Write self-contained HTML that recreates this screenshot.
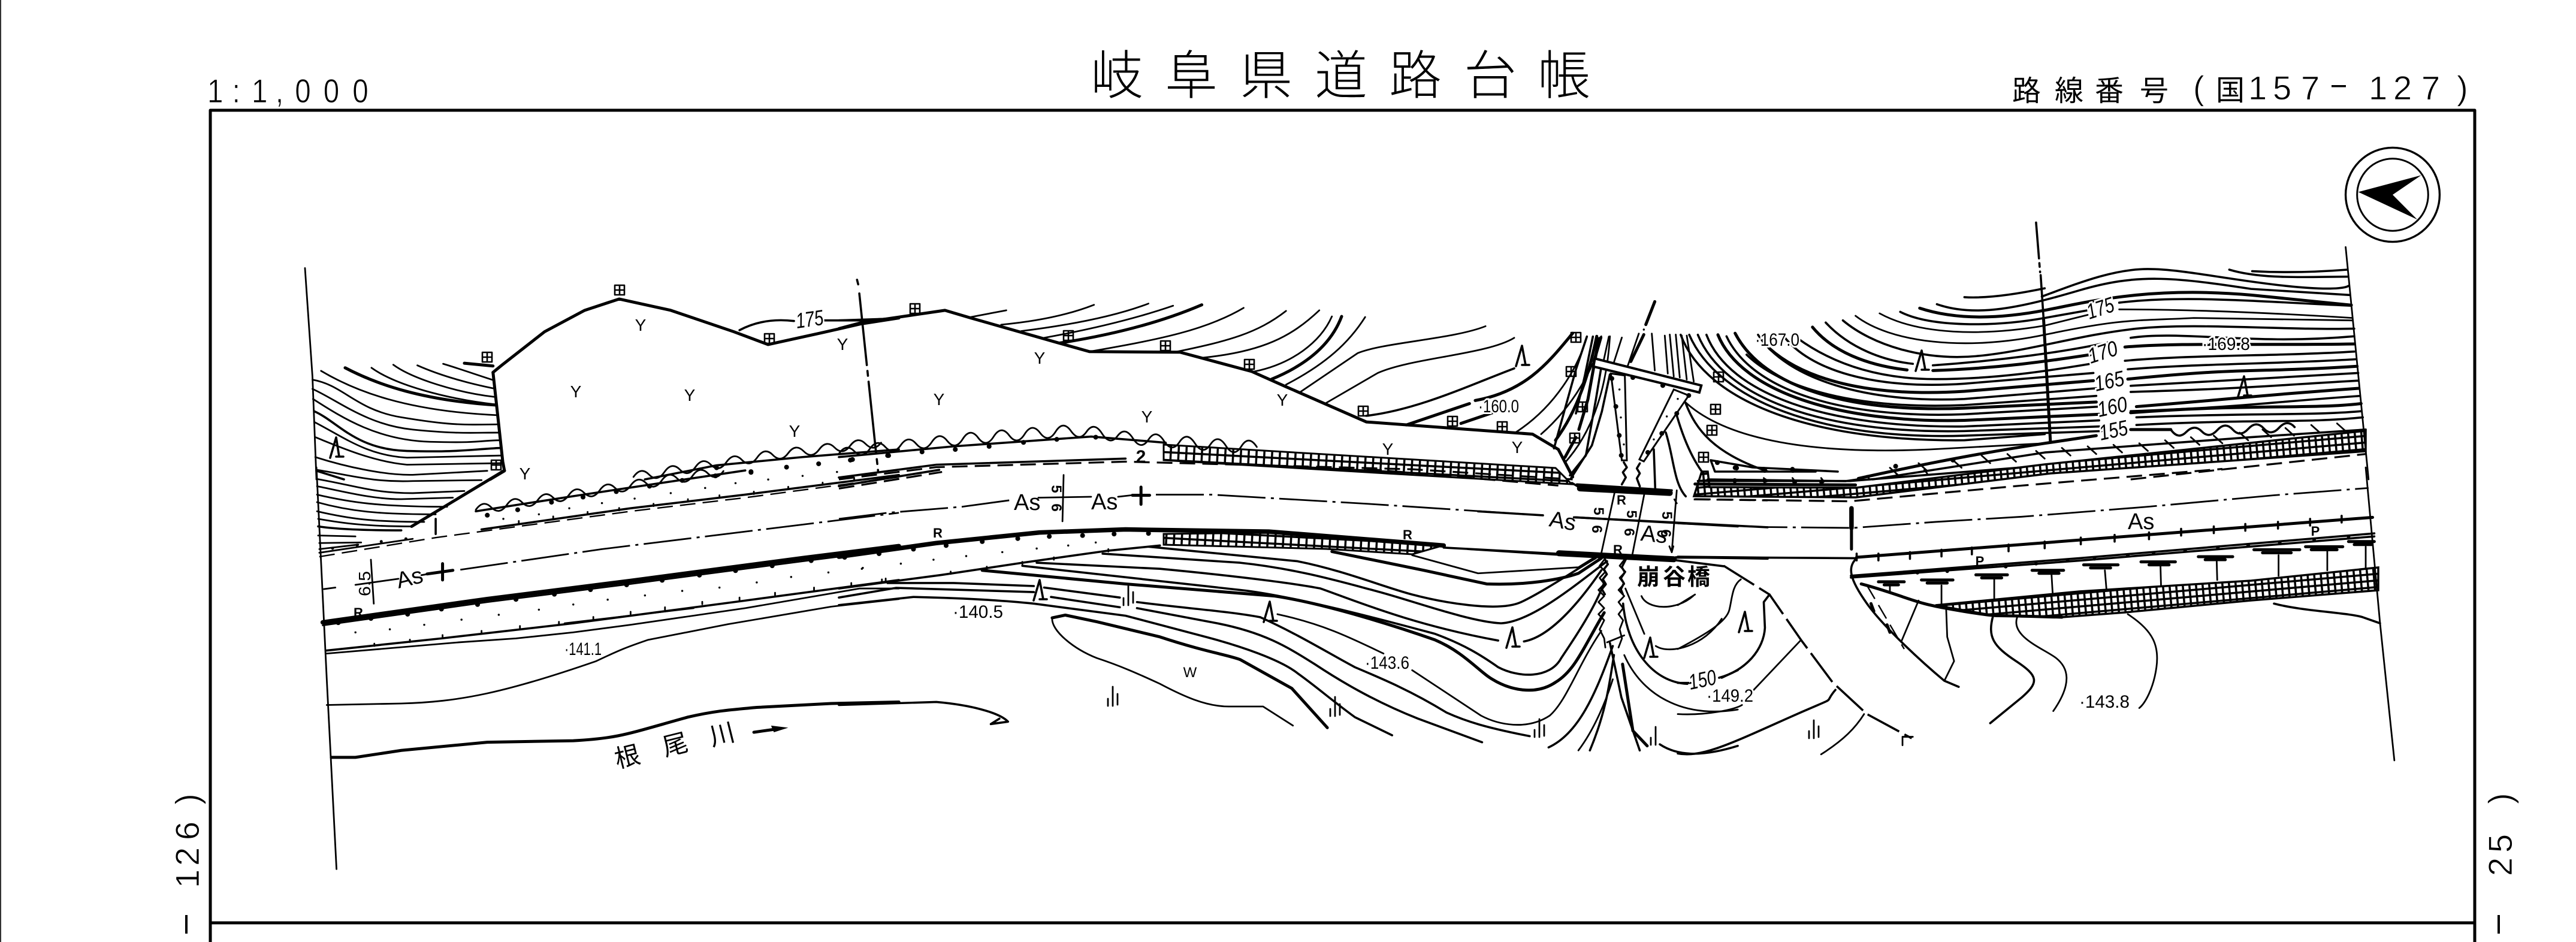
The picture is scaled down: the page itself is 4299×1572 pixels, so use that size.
<!DOCTYPE html>
<html lang="ja"><head><meta charset="utf-8"><title>岐阜県道路台帳</title>
<style>
html,body{margin:0;padding:0;background:#fff}
svg{display:block;position:absolute;left:0;top:0}
path{fill:none;stroke:#000;stroke-width:2.8;vector-effect:non-scaling-stroke;stroke-linejoin:round;stroke-linecap:round}
polygon,ellipse{vector-effect:non-scaling-stroke}
.m{stroke-width:3.6}.b{stroke-width:5}.h{stroke-width:7.5}.x{stroke-width:10}
.dot{stroke-width:8}.sd{stroke-width:3.4}
.dd{stroke-dasharray:26 12;stroke-linecap:butt;stroke-width:3.2}
.dc{stroke-dasharray:80 9 5 9;stroke-linecap:butt;stroke-width:2.8}
text{font-family:"Liberation Sans","Noto Sans CJK JP",sans-serif;fill:#000}
.l{font-size:30px;paint-order:stroke;stroke:#fff;stroke-width:6px}
.i{font-size:36px;font-style:italic;paint-order:stroke;stroke:#fff;stroke-width:6px}
.y{font-size:28px;text-anchor:middle}
.r{font-size:22px;font-weight:bold;text-anchor:middle}
.a{font-size:38px}
.d{font-size:56px;stroke:#fff;stroke-width:.8px}
.t{font-family:"Noto Sans CJK JP",sans-serif}
</style></head><body>
<svg width="4299" height="1572" viewBox="0 0 4299 1572" xmlns="http://www.w3.org/2000/svg">
<defs>
<pattern id="ga" patternUnits="userSpaceOnUse" width="13" height="13" patternTransform="rotate(3)"><rect width="13" height="13" fill="#fff"/><path d="M0 0H13M0 0V13" style="stroke-width:7"/></pattern>
<pattern id="gb" patternUnits="userSpaceOnUse" width="11" height="11" patternTransform="rotate(-5)"><rect width="11" height="11" fill="#fff"/><path d="M0 0H11M0 0V11" style="stroke-width:7"/></pattern>
</defs>
<rect width="4299" height="1572" fill="#fff"/>
<rect x="0" y="0" width="2" height="1572" fill="#333"/>
<!-- frame -->
<path d="M351 1572V184H4130V1572" style="stroke-width:5;stroke-linecap:butt"/>
<path d="M351 1540H4130" style="stroke-width:5;stroke-linecap:butt"/>

<!-- grids -->
<polygon points="1942,742 2596,781 2623,808 2450,798 1942,768" fill="url(#ga)" stroke="#000" stroke-width="3"/>
<polygon points="1942,891 2127,889 2409,910 2357,925 2213,916 1942,909" fill="url(#ga)" stroke="#000" stroke-width="3"/>
<polygon points="3230,1010 3470,987 3757,969 3969,947 3969,985 3757,1002 3546,1022 3441,1030 3326,1027" fill="url(#gb)" stroke="#000" stroke-width="3.5"/>
<polygon points="2827,828 2840,787 2850,787 2853,813 3097,814 3412,775 3948,719 3948,753 3422,790 3097,830" fill="url(#gb)" stroke="#000" stroke-width="3.5"/>

<!-- T1 -->
<g transform="scale(.9567,.5102)">
<path d="M532 877L545 1230 552 1568"/>
<path class="b" d="M860 1218L875 1195 950 1085 1020 1015 1080 978 1170 1015 1280 1085 1340 1127 1430 1090 1500 1060 1568 1040"/>
<path class="b" d="M860 1218L877 1510 880 1540 855 1568"/>
<path class="b" d="M810 1188L860 1197"/>
<path d="M773 1190C800 1205 830 1225 860 1243"/>
<path d="M728 1195C770 1230 820 1255 860 1270"/>
<path d="M686 1193C720 1240 800 1285 862 1298"/>
<path d="M648 1203C690 1260 780 1305 865 1323"/>
<path class="b" d="M602 1203C660 1260 740 1310 866 1325"/>
<path d="M560 1213C620 1280 710 1345 868 1358"/>
<path d="M545 1242C600 1260 620 1340 700 1365S800 1390 870 1388"/>
<path d="M545 1272C590 1310 640 1390 720 1405S820 1415 872 1415"/>
<path d="M546 1305C600 1370 660 1440 750 1445S840 1440 872 1440"/>
<path class="m" d="M548 1345C590 1380 620 1470 710 1475S820 1470 874 1465"/>
<path d="M548 1380C600 1430 640 1490 710 1497L874 1490"/>
<path d="M550 1430C590 1460 650 1510 710 1520L874 1515"/>
<path d="M550 1495C600 1525 670 1555 720 1553L850 1540"/>
<path class="m" d="M552 1540L600 1568"/>
<path class="m" d="M1290 1080C1310 1060 1340 1040 1385 1050M1437 1048L1500 1048 1568 1040"/>
<path class="m" d="M1495 915L1497 930M1499 960L1527 1460 1532 1545" style="stroke-dasharray:120 10 8 10"/>
<path d="M1105 1560q13 -35 27 -8t27 -8t27 -8t27 -8t27 -8t27 -8t27 -8t27 -8t27 -8t27 -6t27 -6t27 -6t27 -6t27 -6t27 -6t27 -4"/>
<path class="m" d="M1125 1568L1250 1522 1400 1495 1568 1470"/>
<path class="dot" d="M1250 1530h.1M1310 1545h.1M1372 1528h.1M1428 1517h.1M1487 1503h.1M1550 1490h.1"/>
</g>

<!-- T2 -->
<g transform="translate(1400,0) scale(.9567,.5102)">
<path class="b" d="M0 1075L40 1055 185 1015 230 1040 380 1120 437 1150 595 1152 720 1215 780 1265 920 1380 1210 1420 1255 1470 1280 1560"/>
<path class="m" d="M0 1048L80 1043"/>
<path d="M230 1037L292 1015"/><path d="M283 1062Q380 1045 445 997"/><path d="M318 1083Q460 1050 540 993"/>
<path d="M358 1105Q490 1060 583 1000"/><path class="b" d="M385 1122Q530 1080 633 997"/>
<path d="M437 1150C560 1110 640 1080 706 1007"/><path d="M590 1150C680 1115 730 1090 780 1017"/>
<path d="M635 1170C740 1150 790 1100 838 1015"/><path d="M725 1215C790 1190 840 1120 860 1035"/>
<path class="b" d="M755 1240C820 1190 860 1120 877 1035"/><path d="M780 1258C850 1190 890 1120 918 1037"/>
<path d="M805 1282L905 1155C950 1120 1070 1110 1128 1067"/>
<path d="M850 1318L940 1220C1000 1170 1130 1160 1178 1105 1190 1100 1205 1090"/>
<path class="m" d="M920 1360C1010 1340 1100 1260 1178 1205"/>
<path class="b" d="M990 1390L1100 1320"/><path class="b" d="M1085 1385L1140 1350"/>
<path class="b" d="M1110 1310C1200 1280 1240 1180 1280 1090"/>
<path d="M1180 1415C1250 1330 1290 1200 1305 1100"/>
<path d="M1225 1420C1280 1330 1320 1200 1330 1100"/>
<path class="b" d="M1250 1440C1290 1340 1310 1210 1322 1100"/>
<path d="M1268 1510C1320 1400 1340 1250 1345 1100"/>
<path d="M0 1484q13 -35 27 -8t27 -8t27 -6t27 -6t27 -4t27 -6t27 -4t27 -6t27 -4t27 -4t27 -4t27 -4t27 -4t27 -4t27 -2t27 2t27 6t27 8t27 8t27 4t27 4t27 4t27 4t27 4t27 4t27 2t27 2"/>
<path class="m" d="M0 1495L200 1460 440 1428 570 1448"/>
<path class="dot" d="M20 1505h.1M85 1490h.1M145 1478h.1M203 1470h.1M262 1460h.1M322 1447h.1M380 1437h.1M448 1430h.1"/>
<path class="m" d="M0 1562L170 1520 500 1500"/>
<path class="dd" d="M0 1568L170 1528 500 1510 1000 1535 1280 1568"/>
</g>

<!-- T3 -->
<g transform="translate(2800,0) scale(.9567,.5102)">
<path d="M1165 808L1205 1568"/>
<ellipse cx="1247" cy="637" rx="82" ry="154" fill="none" stroke="#000" stroke-width="3.4"/>
<ellipse cx="1247" cy="637" rx="62" ry="118" fill="none" stroke="#000" stroke-width="3"/>
<polygon points="1187,628 1297,573 1247,637 1290,718" fill="#000"/>
<path class="m" d="M625 728L632 890" style="stroke-dasharray:60 8 6 8"/>
<path class="m" d="M633 900L638 1040"/><path class="b" d="M638 1040L650 1445"/>
<path class="m" d="M500 972Q550 978 640 943"/>
<path class="m" d="M1002 887Q1080 895 1168 882"/>
<path class="m" d="M962 882C1020 915 1100 905 1168 905"/>
<path class="m" d="M635 970C700 925 760 880 820 880S960 915 1060 935 1170 935 1170 935"/>
<path class="m" d="M452 995C520 1040 600 1005 700 950S860 905 1000 945L1172 965"/>
<path class="b" d="M422 1008C490 1050 570 1040 640 1015S820 935 1000 965L1175 998"/>
<path class="m" d="M388 1020C440 1070 550 1070 640 1040L715 1015M770 990C880 965 1000 985 1175 1000"/>
<path d="M352 1025C420 1095 530 1100 640 1065L715 1030M770 1012C900 1012 1050 1025 1177 1040"/>
<path d="M310 1033C370 1120 500 1150 640 1095S800 1050 900 1040L1177 1048"/>
<path class="m" d="M288 1048C340 1130 430 1180 520 1165S700 1095 800 1075 1050 1080 1180 1075"/>
<path class="m" d="M258 1055C300 1140 360 1180 410 1190M445 1195C560 1180 680 1150 750 1120M790 1105C880 1080 1000 1130 1180 1100"/>
<path class="b" d="M235 1070C270 1150 330 1195 400 1210M445 1212C560 1205 650 1180 720 1160M780 1135C880 1120 1000 1130 1180 1125"/>
<path class="m" d="M208 1105C270 1190 350 1240 450 1240S640 1215 720 1190M780 1180C900 1160 1050 1165 1180 1150"/>
<path class="m" d="M185 1100C230 1210 340 1275 500 1255L725 1220M785 1208C900 1190 1050 1190 1183 1175"/>
<path class="b" d="M160 1140C220 1240 330 1300 500 1280L725 1245M785 1240C1000 1200 1000 1220 1185 1198"/>
<path class="m" d="M140 1095C190 1240 330 1320 500 1305L730 1270M790 1262C1000 1240 1000 1240 1187 1220"/>
<path class="m" d="M120 1160C180 1270 310 1340 500 1325L730 1295M790 1282C1000 1270 1000 1265 1187 1245"/>
<path class="b" d="M100 1090C150 1270 300 1350 500 1335L730 1315M800 1330C1000 1300 1000 1295 1188 1270"/>
<path class="m" d="M85 1100C130 1280 290 1370 500 1355L735 1330M790 1345C1000 1330 1000 1320 1190 1295"/>
<path class="b" d="M70 1095C110 1280 280 1385 500 1375L735 1355M790 1350C1000 1320 1100 1340 1192 1320"/>
<path class="m" d="M50 1095C90 1290 260 1400 500 1395L735 1375M800 1365C1000 1350 1100 1360 1192 1345"/>
<path class="m" d="M35 1095C80 1300 250 1420 500 1410L735 1395M800 1390C1000 1370 1100 1385 1195 1365"/>
<path class="m" d="M20 1095C70 1310 250 1440 500 1425L740 1410"/>
<path class="m" d="M5 1095C50 1320 240 1445 500 1440L640 1420"/>
<path d="M0 1290C60 1420 200 1490 440 1470L640 1450"/>
<path class="b" d="M315 1565C400 1530 500 1490 640 1450L730 1425"/>
<path class="m" d="M340 1568L640 1480 1000 1430 1200 1405"/>
<path class="dot" d="M100 1530h.1M150 1535h.1M200 1535h.1M380 1525h.1M480 1505h.1"/>
<path d="M370 1530l15 25M420 1515l15 25M480 1505l15 25M530 1490l15 25M575 1485l15 25M625 1475l15 25M670 1465l15 25M715 1460l15 25M760 1455l15 25M805 1450l15 25M850 1440l15 25M895 1430l15 25M935 1425l15 25M980 1415l15 25M1020 1405l15 25M1060 1400l15 25M1105 1390l15 25M1150 1385l15 25"/>
<path class="b" d="M790 1405L860 1405"/>
<path class="m" d="M860 1405q13 35 27 8t27 -2t27 -4t27 -2t27 -2t27 -2t27 -2t27 -2"/>
<path class="dd" d="M790 1568L1200 1485"/>
</g>

<!-- T4 -->
<g transform="translate(0,780) scale(.9567,.5051)">
<path d="M552 0L570 700 587 1327"/>
<path class="b" d="M880 10L718 195"/>
<path d="M552 8C610 25 650 50 720 45L840 42"/>
<path d="M552 38C620 60 650 85 720 85L810 78"/>
<path d="M553 62C600 80 650 105 700 105L790 100"/>
<path d="M553 90C610 115 660 130 780 130"/>
<path d="M553 115C610 145 660 155 760 155"/>
<path d="M553 145C610 170 650 180 740 180"/>
<path d="M555 170C600 185 640 195 720 195"/>
<path class="m" d="M555 195C590 205 640 208 700 208"/>
<path d="M555 225L620 228M557 250L630 248"/>
<path class="m" d="M760 170V220"/>
<path d="M557 270L625 255M557 282L720 236"/>
<path class="dot" style="stroke-width:5" d="M580 267h.1M623 257h.1M665 245h.1M708 236h.1"/>
<path class="dd" style="stroke-width:2.4" d="M557 295L760 232 1100 145 1300 100 1568 32"/>
<path class="m" d="M840 205L1100 135 1300 90 1568 25"/>
<path d="M905 185v-8M965 170v-8M1025 155v-8M1080 142v-8M1140 128v-8M1200 113v-8M1255 100v-8M1315 88v-8M1375 72v-8M1435 58v-8M1490 42v-8"/>
<path d="M830 140q13 -35 27 -8t27 -8t27 -8t27 -8t27 -8t27 -8t27 -8t27 -8t27 -8t27 -8t27 -8t27 -8t27 -8t27 -8t27 -8t27 -8"/>
<path class="m" d="M830 145L1000 95 1300 10"/>
<path class="dot" d="M850 158h.1M903 140h.1M962 115h.1M1017 98h.1M1075 80h.1M1133 62h.1M1190 43h.1M1248 28h.1M1310 14h.1"/>
<path class="dc" d="M803 338L1050 270 1568 150"/>
<path d="M565 402L585 397"/>
<path class="b" d="M772 318V372M745 352L790 340"/>
<path d="M647 305L652 450M620 388L695 368M735 356L760 348"/>
<path class="h" d="M563 512L850 435 1100 375 1400 300 1568 260"/>
<path d="M563 522L850 445 1100 385 1400 310 1568 270"/>
<path class="dot" d="M590 513h.1M647 499h.1M711 485h.1M770 468h.1M833 453h.1M900 436h.1M967 419h.1M1030 404h.1M1093 388h.1M1155 373h.1M1220 356h.1M1283 341h.1M1347 325h.1M1415 308h.1M1473 293h.1M1533 278h.1"/>
<path class="m" d="M570 605L770 565 1000 515 1300 440 1568 372"/>
<path d="M653 590v-8M715 577v-8M772 562v-8M840 548v-8M907 532v-8M975 518v-8M1035 502v-8M1100 485v-8M1160 470v-8M1225 452v-8M1290 438v-8M1352 422v-8M1420 405v-8M1485 390v-8M1545 375v-8"/>
<path d="M570 615L800 578 900 565 1000 545 1100 520 1300 465 1500 400 1568 400"/>
<path d="M985 515L1210 465"/>
<path d="M570 785L700 780C800 775 880 745 1040 640C1090 595 1100 590 1130 570L1270 518 1450 460 1568 435"/>
<path class="b" d="M578 958H620L700 935 850 908 1000 903C1080 895 1095 880 1200 825C1250 803 1280 800 1320 793L1450 780 1568 775"/>
<path class="b" d="M1315 875L1360 863"/>
<polygon points="1375,860 1345,853 1350,875" fill="#000"/>
<path class="sd" d="M620 545h.1M680 535h.1M740 520h.1M805 503h.1M870 487h.1M940 470h.1M1000 453h.1M1060 437h.1M1125 423h.1M1190 408h.1M1255 397h.1M1320 380h.1M1380 362h.1M1445 347h.1M1505 332h.1M878 170h.1M940 155h.1M993 135h.1M1050 118h.1M1107 103h.1M1170 85h.1M1230 68h.1M1283 52h.1M1340 40h.1M1400 28h.1M1460 15h.1"/>
</g>

<!-- T5 -->
<g transform="translate(1400,780) scale(.9567,.5051)">
<path class="m" d="M0 62L175 8"/>
<path class="dd" d="M0 70L180 15"/>
<path class="dd" d="M920 5L1255 60"/>
<path class="dc" d="M0 170L85 150 215 130 300 108"/>
<path d="M392 25L390 178M348 100L440 97M487 97L510 92"/>
<path class="b" d="M527 65V122M512 92H542"/>
<path class="dc" d="M553 90L650 90 920 120 1225 158"/>
<path class="m" d="M1285 165L1568 195"/>
<path class="h" d="M0 295L170 250 350 215 500 205 750 212 1055 258"/>
<path class="dot" d="M10 297h.1M70 285h.1M130 270h.1M187 258h.1M250 245h.1M312 235h.1M367 228h.1M425 225h.1M480 220h.1M540 218h.1"/>
<path class="m" d="M1055 265L1250 285"/>
<path class="m" d="M1460 298L1568 298"/>
<path class="m" d="M0 400L180 355 320 315 470 275 560 258"/>
<path d="M75 378v-8M195 352v-8M258 336v-8M320 320v-8M375 305v-8M470 278v-8"/>
<path class="sd" d="M40 335h.1M108 318h.1M165 305h.1M222 293h.1M285 280h.1M345 268h.1M400 258h.1M448 248h.1"/>
<!-- contours -->
<path class="m" d="M85 382L200 382 340 392M358 397L490 430M520 445C600 465 680 475 735 495"/>
<path class="m" d="M0 430L100 398 340 412M370 428L490 462M520 465L660 515C740 545 780 590 830 650C870 700 930 770 1010 830L1122 908"/>
<path class="m" d="M0 455L130 428C220 432 290 440 340 450L500 490 640 560C700 590 770 635 800 680C830 720 860 770 900 825L965 885"/>
<path class="b" d="M372 497L395 488 450 510 560 560C640 610 680 620 700 635L790 730 852 860"/>
<path d="M372 497C370 540 410 600 450 630C490 655 520 680 560 715C600 755 640 790 680 790L740 790 792 853"/>
<path d="M765 485C850 520 900 570 950 615M1000 670L1120 820C1150 850 1200 870 1240 820C1270 770 1290 650 1330 540"/>
<path class="m" d="M735 495C800 550 860 620 900 660C950 700 1000 740 1060 810C1095 840 1130 860 1205 888"/>
<path class="b" d="M250 340L500 385 760 425C850 450 980 530 1040 570C1090 610 1120 680 1140 700C1170 735 1215 755 1250 710C1285 670 1300 590 1335 480"/>
<path class="m" d="M320 325L700 405C800 425 1000 530 1040 550C1090 585 1120 620 1150 660C1185 695 1240 700 1260 630C1285 560 1320 460 1335 380"/>
<path class="m" d="M345 315L560 335C700 360 800 385 840 400C900 440 1000 520 1150 572M1195 575C1240 560 1290 450 1330 340"/>
<path class="m" d="M460 285L700 315C800 335 880 380 940 410C1000 440 1100 510 1155 515C1210 510 1290 380 1340 310"/>
<path class="m" d="M540 262L800 310C880 340 950 395 1000 420C1050 445 1150 480 1190 445C1230 410 1300 320 1320 300"/>
<path class="b" d="M860 278L1020 340 1130 385C1200 390 1260 370 1290 350L1330 300"/>
<path d="M1000 290L1115 350 1290 330 1320 295"/>
<path class="m" d="M1238 925C1290 880 1320 750 1350 590"/>
<path d="M1290 935C1320 860 1340 760 1350 700"/>
<path class="m" d="M1310 935C1340 800 1345 700 1352 620"/>
<path d="M1335 305l-8 20 10 20 -10 20 8 20 -10 20 10 20 -10 20 10 20 -10 20 10 20 -8 30 8 30 2 30"/>
<path d="M1370 305l-8 20 10 20 -10 20 8 20 -10 20 10 20 -10 20 8 20 -8 20 8 20 -6 30 4 30 -6 30"/>
<path d="M1340 578L1370 555"/>
<path class="b" d="M1367 650L1385 870 1410 920"/>
<path class="m" d="M1345 580L1365 760 1397 935"/>
<path d="M1400 425C1410 470 1460 475 1490 425"/>
<path d="M1372 400L1405 550M1425 590C1450 620 1510 590 1540 500"/>
<path class="m" d="M1368 450C1375 600 1420 710 1480 715"/>
<path class="m" d="M1540 695L1568 670"/>
<path d="M1370 620C1400 750 1470 830 1568 800"/>
<path class="m" d="M1432 915C1460 950 1500 960 1568 920"/>
<path class="m" d="M0 785L170 775C230 785 280 810 295 840L265 848 280 830"/>
</g>

<!-- T6 -->
<g transform="translate(2800,780) scale(.9567,.5051)">
<path d="M1200 0L1225 515 1250 968"/>
<path class="m" d="M35 45L300 45 600 0"/>
<path class="b" d="M30 55L310 58"/>
<path d="M150 35l5 12M200 35l5 12M250 35l5 12M330 28l5 12M380 18l5 12M430 8l5 12"/>
<path class="dd" d="M30 105L300 112 600 60 950 5"/>
<path class="dc" d="M0 185L150 197 305 200 450 180 600 163 820 130 1040 92 1205 68"/>
<path class="m" d="M0 295L150 298 312 300"/>
<path class="h" d="M303 135V200"/><path class="b" d="M303 200V270"/>
<path class="b" d="M312 297L1212 165"/>
<path class="m" d="M312 285v22M350 285v22M405 280v22M460 272v22M513 265v22M577 255v22M640 245v22M703 232v22M762 223v22M822 215v22M878 203v22M935 195v22M990 187v22M1047 180v22M1103 170v22M1158 160v22"/>
<path class="m" d="M302 358L700 300 1215 218M302 364L700 308 1215 228"/>
<path class="dot" style="stroke-width:6" d="M418 348h.1M470 343h.1M572 328h.1M625 318h.1M680 307h.1M727 302h.1M785 291h.1M830 285h.1M885 275h.1M942 265h.1M995 258h.1M1050 248h.1M1110 238h.1M1170 228h.1"/>
<path class="b" d="M350 378h45M360 388h25M425 372h55M435 382h35M520 355h55M530 365h35M618 340h55M630 350h35M708 322h60M720 332h35M808 312h60M822 322h35M908 295h60M920 305h35M1005 272h80M1020 282h50M1095 262h65M1105 272h45M1170 245h45M1180 255h30"/>
<path d="M370 390V410M460 390V455M552 370V435M652 355L654 418M745 340L748 408M842 325L843 392M940 305L941 372M1048 290L1048 358M1133 275L1133 340M1200 262L1200 335"/>
<path class="b" d="M320 385C370 410 400 435 430 450S540 490 560 490 670 495 670 495"/>
<path class="m" d="M312 300C295 330 300 370 330 450S430 650 465 705L490 725"/>
<path class="dd" style="stroke-width:2.4" d="M330 390L395 600"/>
<path d="M420 440L390 575M468 460L470 560 482 640 465 705"/>
<path class="b" d="M337 450l5 25"/><path class="b" d="M365 520l5 25"/>
<path class="m" d="M550 490C540 560 550 590 590 640S630 710 600 760L545 845"/>
<path d="M592 495C580 560 640 600 660 630S690 710 655 805"/>
<path d="M785 485C830 540 840 590 835 660S815 780 805 795"/>
<path class="m" d="M1040 450C1090 475 1170 480 1195 495L1225 515"/>
<path class="b" style="stroke-dasharray:60 10;stroke-width:3.6;stroke-linecap:butt" d="M80 325L160 420 215 570 270 710 330 815 408 895"/>
<path class="m" d="M0 712H22M72 695C120 670 150 600 152 530L150 445 160 420"/>
<path d="M0 600C50 550 85 510 90 470S95 390 110 370"/>
<path d="M0 815C50 820 100 800 112 785M130 740L215 570"/>
<path class="m" d="M0 945C40 960 90 915 190 830S250 790 275 735"/>
<path d="M250 948C290 900 310 860 325 815M392 918V890H410"/>
<path d="M0 455L30 420"/>
</g>

<!-- orig-coordinate road pieces right of bridge -->
<path class="m" d="M2855 768L2862 787 3030 787M2855 768L2925 780 3067 787M2850 800L3080 803 3100 800"/>
<path class="dot" d="M2866 772h.1M2898 781h.1M2945 785h.1M2992 785h.1M2895 802h.1M2945 802h.1M2995 804h.1M3040 804h.1"/>

<!-- T7 bridge -->
<g transform="translate(2450,500) scale(.3333)">
<path class="b" d="M935 10L890 125"/><path class="sd" d="M880 150h.1"/>
<path class="b" d="M880 175L815 310"/><path d="M855 170L800 330"/>
<path class="m" d="M665 350L640 500 590 780 510 880"/><path class="m" d="M710 375L670 560 620 730 515 895"/>
<path class="m" d="M625 185L585 380 540 570"/><path class="b" d="M655 195L600 500 555 650"/><path class="m" d="M595 185L540 350 430 745"/>
<path class="b" d="M665 190L630 310"/><path d="M705 185L680 300M770 190L730 315"/>
<path class="b" d="M540 690L485 790"/>
<path d="M920 170L935 355M985 180L1000 370M1010 175L1030 385M1040 175L1060 390M1070 180L1095 400M1095 180L1130 410"/>
<polygon points="635,295 1168,430 1158,465 628,335" fill="#fff" stroke="#000" stroke-width="4"/>
<polygon points="715,370 770,805 795,805 785,380" fill="#fff" stroke="#000" stroke-width="3"/>
<polygon points="1030,450 858,800 880,810 1105,480" fill="#fff" stroke="#000" stroke-width="3"/>
<path class="dot" d="M720 395h.1M740 535h.1M757 680h.1M767 780h.1M825 390h.1M975 430h.1M1105 480h.1M1045 570h.1M970 670h.1M900 765h.1"/>
<path class="sd" d="M758 450h.1M765 590h.1M780 725h.1M1050 497h.1M995 585h.1M930 700h.1"/>
<path class="m" d="M930 750L937 945M990 665C1030 790 1030 920 1090 985M1045 580C1080 700 1120 790 1170 860"/>
<path class="m" d="M1090 520C1140 650 1230 770 1500 860"/>
<path class="m" d="M780 815l15 25 -20 25 15 25 -20 35"/>
<path class="m" d="M860 820l-15 25 15 25 -15 25 15 40"/>
<path class="x" d="M560 945L1010 968"/><path class="m" d="M520 918L575 950M545 925L1020 955"/>
<path d="M735 960L665 1280M885 960L822 1280"/>
<path d="M1045 955L1020 1265M1045 1020l-12 -20M1020 1265l-12 -30M1020 1265l8 -30"/>
<path class="m" d="M50 1060L375 1080M530 1090L1500 1140"/>
<path class="x" d="M455 1270L1030 1300"/>
<path class="m" d="M1040 1290L1500 1297"/>
<path d="M0 1250L445 1278"/>
<path class="m" d="M1040 1305L1280 1335"/>
<path class="m" d="M685 1300l15 25 -20 25 15 25 -20 25 15 25 -20 25 15 25"/>
<path class="m" d="M790 1300l-20 40 15 25 -20 30 15 25 -15 30 10 25"/>
<path class="dd" d="M1130 1000L1500 1005"/>
</g>

<!-- window symbols -->
<path style="stroke-width:2.6" d="M1026 476h16v16h-16zM1034 476v16M1026 484h16M805 588h16v16h-16zM813 588v16M805 596h16M1276 557h16v16h-16zM1284 557v16M1276 565h16M820 768h16v16h-16zM828 768v16M820 776h16M1519 507h16v16h-16zM1527 507v16M1519 515h16M1775 552h16v16h-16zM1783 552v16M1775 560h16M1937 569h16v16h-16zM1945 569v16M1937 577h16M2077 600h16v16h-16zM2085 600v16M2077 608h16M2267 678h16v16h-16zM2275 678v16M2267 686h16M2416 695h16v16h-16zM2424 695v16M2416 703h16M2499 704h16v16h-16zM2507 704v16M2499 712h16M2622 555h16v16h-16zM2630 555v16M2622 563h16M2614 612h16v16h-16zM2622 612v16M2614 620h16M2633 671h16v16h-16zM2641 671v16M2633 679h16M2620 723h16v16h-16zM2628 723v16M2620 731h16M2860 621h16v16h-16zM2868 621v16M2860 629h16M2855 675h16v16h-16zM2863 675v16M2855 683h16M2849 710h16v16h-16zM2857 710v16M2849 718h16M2835 755h16v16h-16zM2843 755v16M2835 763h16"/>

<!-- tree symbols -->
<path class="m" d="M551 764L561 730 566 762M561 762h12M2530 611L2540 577 2546 609M2540 609h12M3197 619L3207 585 3213 617M3207 617h12M3735 662L3745 628 3751 660M3745 660h12M1725 1002L1735 968 1741 1000M1735 1000h12M2109 1038L2119 1004 2125 1036M2119 1036h12M2514 1081L2524 1047 2530 1079M2524 1079h12M2744 1098L2754 1064 2760 1096M2754 1096h12M2902 1055L2912 1021 2918 1053M2912 1053h12"/>
<!-- grass symbols -->
<path d="M1875 998v12M1883 978v32M1891 988v18M1849 1166v12M1857 1146v32M1865 1158v18M2220 1183v12M2228 1163v32M2236 1175v18M2561 1218v12M2569 1200v30M2577 1210v18M2755 1231v12M2763 1213v30M3019 1220v12M3027 1202v30M3035 1212v18"/>

<!-- headers -->
<text class="t" font-size="88" font-weight="300" x="1820 1944 2069 2194 2318 2443 2566" y="157">岐阜県道路台帳</text>
<text class="d" transform="translate(346,171) scale(.85,1)" x="0 49 87 134 172 228 285">1:1,000</text>
<text class="t" font-size="48" x="3358 3429 3496 3571" y="168">路線番号</text>
<text class="d" x="3660" y="166">(</text>
<text class="t" font-size="48" x="3698" y="167">国</text>
<text class="d" x="3752 3793 3840 3953 3994 4041 4100" y="166">157127)</text>
<rect x="3891" y="142" width="24" height="3.5" fill="#000"/>
<text class="d" transform="translate(332,1482) rotate(-90)" x="0 37 80 139" y="0">126)</text>
<rect x="309" y="1527" width="4" height="31" fill="#000"/>
<text class="d" transform="translate(4192,1462) rotate(-90)" x="0 39 120">25)</text>
<rect x="4168" y="1527" width="4" height="31" fill="#000"/>

<!-- Y labels -->
<text class="y" x="1069" y="552">Y</text><text class="y" x="961" y="663">Y</text><text class="y" x="1151" y="669">Y</text><text class="y" x="1326" y="729">Y</text><text class="y" x="1406" y="584">Y</text><text class="y" x="876" y="800">Y</text><text class="y" x="1735" y="607">Y</text><text class="y" x="1567" y="676">Y</text><text class="y" x="1914" y="705">Y</text><text class="y" x="2140" y="677">Y</text><text class="y" x="2316" y="759">Y</text><text class="y" x="2532" y="756">Y</text>

<!-- numbers -->
<text class="i" transform="translate(1330,548) rotate(-8)" textLength="46" lengthAdjust="spacingAndGlyphs">175</text>
<text class="i" transform="translate(3487,533) rotate(-18)" textLength="46" lengthAdjust="spacingAndGlyphs">175</text>
<text class="i" transform="translate(3489,607) rotate(-18)" textLength="50" lengthAdjust="spacingAndGlyphs">170</text>
<text class="i" transform="translate(3498,653) rotate(-12)" textLength="50" lengthAdjust="spacingAndGlyphs">165</text>
<text class="i" transform="translate(3503,696) rotate(-12)" textLength="50" lengthAdjust="spacingAndGlyphs">160</text>
<text class="i" transform="translate(3506,735) rotate(-12)" textLength="48" lengthAdjust="spacingAndGlyphs">155</text>
<text class="i" transform="translate(2821,1151) rotate(-12)" textLength="46" lengthAdjust="spacingAndGlyphs">150</text>
<text class="l" x="2929" y="577" textLength="74" lengthAdjust="spacingAndGlyphs">·167.0</text>
<text class="l" x="3675" y="584" textLength="80" lengthAdjust="spacingAndGlyphs">·169.8</text>
<text class="l" x="3470" y="1181" textLength="84" lengthAdjust="spacingAndGlyphs">·143.8</text>
<text class="l" x="2848" y="1171" textLength="78" lengthAdjust="spacingAndGlyphs">·149.2</text>
<text class="l" x="2278" y="1116" textLength="74" lengthAdjust="spacingAndGlyphs">·143.6</text>
<text class="l" x="1590" y="1031" textLength="84" lengthAdjust="spacingAndGlyphs">·140.5</text>
<text class="l" x="942" y="1093" textLength="62" lengthAdjust="spacingAndGlyphs">·141.1</text>
<text class="l" x="2467" y="688" textLength="68" lengthAdjust="spacingAndGlyphs">·160.0</text>
<text class="y" style="font-size:24px" x="1986" y="1130">W</text>
<text class="a" x="1692" y="851">As</text><text class="a" x="1821" y="850">As</text>
<text class="a" transform="translate(2584,878) rotate(10)">As</text>
<text class="a" transform="translate(2737,902) rotate(6)">As</text>
<text class="a" x="3551" y="883">As</text>
<text class="a" transform="translate(665,982) rotate(-14)">As</text>
<text x="1904" y="772" style="font-size:30px;font-weight:bold" text-anchor="middle">2</text>
<text class="r" x="598" y="1030">R</text><text class="r" x="1565" y="897">R</text><text class="r" x="2349" y="900">R</text><text class="r" x="2706" y="842">R</text><text class="r" x="2700" y="925">R</text><text class="r" x="3304" y="944">P</text><text class="r" x="3864" y="894">P</text>
<g style="font-size:24px;font-weight:bold">
<text transform="translate(2660,853) rotate(90)" text-anchor="middle">5</text><text transform="translate(2715,858) rotate(90)" text-anchor="middle">5</text><text transform="translate(2774,860) rotate(90)" text-anchor="middle">5</text>
<text transform="translate(2657,883) rotate(90)" text-anchor="middle">6</text><text transform="translate(2711,888) rotate(90)" text-anchor="middle">6</text><text transform="translate(2772,890) rotate(90)" text-anchor="middle">6</text>
<text transform="translate(1755,816) rotate(90)" text-anchor="middle">5</text><text transform="translate(1755,847) rotate(90)" text-anchor="middle">6</text>
</g>
<text transform="translate(618,995) rotate(-90)" style="font-size:28px" textLength="42" lengthAdjust="spacingAndGlyphs">6.5</text>
<text class="t" font-size="38" font-weight="bold" x="2732 2775 2816" y="976">崩谷橋</text>
<g class="t" font-size="42">
<text transform="translate(1030,1282) rotate(-14)">根</text>
<text transform="translate(1110,1262) rotate(-14)">尾</text>
<text transform="translate(1188,1245) rotate(-14)">川</text>
</g>
</svg>
</body></html>
